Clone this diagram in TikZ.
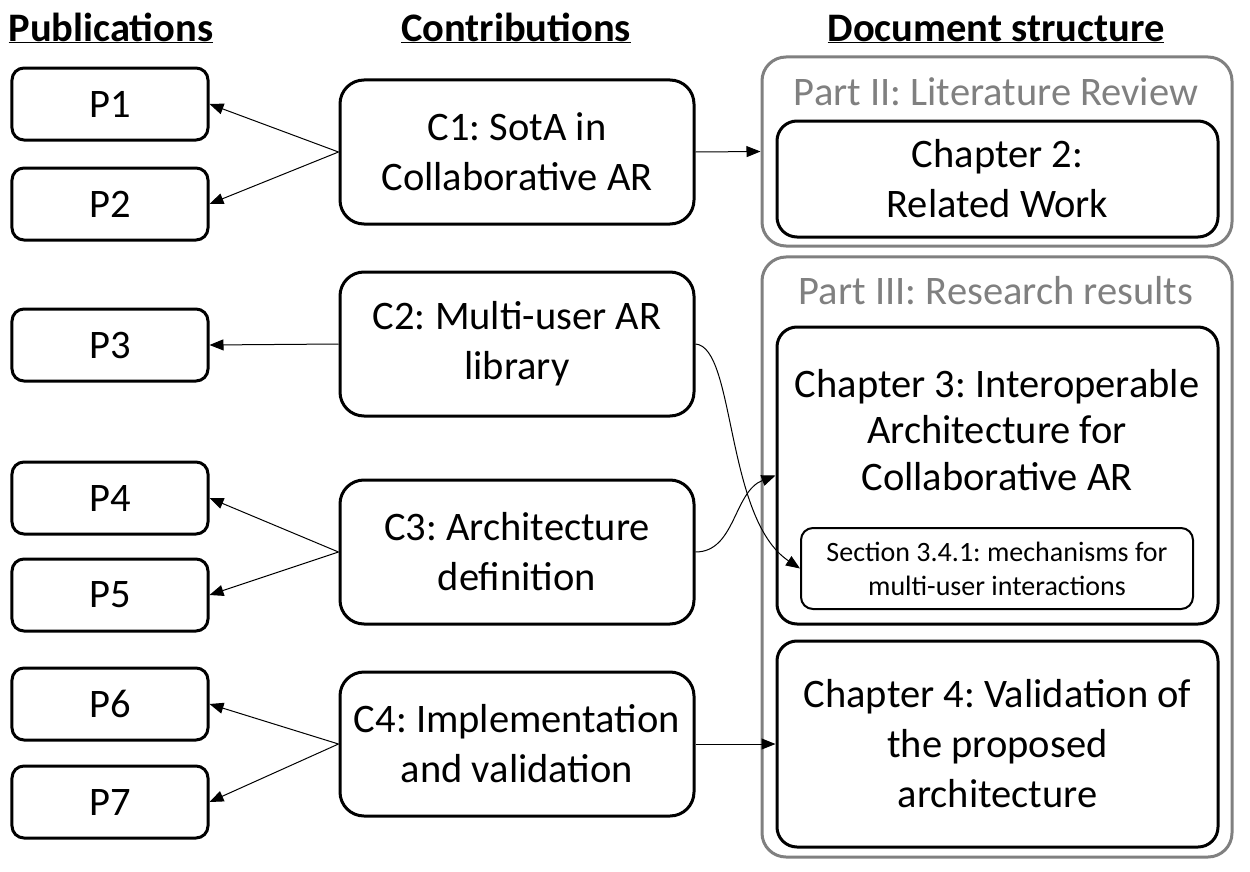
\documentclass[tikz,border=0pt]{standalone}
\usepackage{fontspec}
\setmainfont{Carlito}
\usepackage{xcolor}
\usetikzlibrary{arrows.meta}
\definecolor{partgray}{HTML}{808080}
\frenchspacing

\tikzset{
	big/.style={font=\fontsize{40.5bp}{50bp}\selectfont},
	small/.style={font=\fontsize{28bp}{34bp}\selectfont},
	head/.style={font=\fontsize{40.5bp}{50bp}\selectfont\bfseries, anchor=base},
	pubbox/.style={big, draw, line width=3bp, rounded corners=12bp, minimum width=196bp, minimum height=72bp, inner sep=0pt},
	contbox/.style={big, draw, line width=3bp, rounded corners=24bp, minimum width=354bp, minimum height=144bp, align=center, inner sep=0pt},
	partbox/.style={draw=partgray, line width=3bp, rounded corners=24bp, inner sep=0pt},
	parttitle/.style={big, text=partgray},
	chapbox/.style={big, draw, line width=3bp, rounded corners=20bp, align=center, inner sep=0pt},
	link/.style={-{Triangle[length=14bp,width=11bp]}, line width=1bp},
}

\begin{document}
\begin{tikzpicture}[x=1bp, y=-1bp]
		\useasboundingbox (0,0) rectangle (1250,872);
		% headers
		\node[head] (hpub) at (111,41) {\underline{Publications}};
		\node[head] (hcont) at (516,41) {\underline{Contributions}};
		\node[head] (hdoc) at (996,41) {\underline{Document structure}};
		% publications
		\node[pubbox] (p1) at (110,104) {P1};
		\node[pubbox] (p2) at (110,204) {P2};
		\node[pubbox] (p3) at (110,345) {P3};
		\node[pubbox] (p4) at (110,498) {P4};
		\node[pubbox] (p5) at (110,595) {P5};
		\node[pubbox] (p6) at (110,704) {P6};
		\node[pubbox] (p7) at (110,802) {P7};
		% contributions
		\node[contbox] (c1) at (517,152) {C1: SotA in\\Collaborative AR};
		\node[contbox] (c2) at (517,344) {C2: Multi-user AR\\library};
		\node[contbox] (c3) at (517,552) {C3: Architecture\\definition};
		\node[contbox] (c4) at (517,744) {C4: Implementation\\and validation};
		% document structure
		\node[partbox, minimum width=470bp, minimum height=189bp] (part2) at (997,151.5) {};
		\node[parttitle] (part2title) at (996,92) {Part II: Literature Review};
		\node[chapbox, minimum width=441bp, minimum height=116bp] (ch2) at (997.5,179) {Chapter 2:\\Related Work};
		\node[partbox, minimum width=470bp, minimum height=600bp] (part3) at (997,557) {};
		\node[parttitle] (part3title) at (996,291) {Part III: Research results};
		\node[chapbox, minimum width=441bp, minimum height=297bp] (ch3) at (997.5,475.5) {};
		\node[big, align=center, font=\fontsize{40.5bp}{46.5bp}\selectfont] (ch3text) at (997,430) {Chapter 3: Interoperable\\Architecture for\\Collaborative AR};
		\node[small, draw, line width=2bp, rounded corners=12bp, minimum width=392bp, minimum height=81bp, align=center, inner sep=0pt] (sec) at (997,568.5) {Section 3.4.1: mechanisms for\\multi-user interactions};
		\node[chapbox, minimum width=441bp, minimum height=206bp] (ch4) at (997.5,744) {Chapter 4: Validation of\\the proposed\\architecture};
		% links
		\draw[link] (c1.west) -- (p1.east);
		\draw[link] (c1.west) -- (p2.east);
		\draw[link] (c2.west) -- (p3.east);
		\draw[link] (c3.west) -- (p4.east);
		\draw[link] (c3.west) -- (p5.east);
		\draw[link] (c4.west) -- (p6.east);
		\draw[link] (c4.west) -- (p7.east);
		\draw[link] (c1.east) -- (part2.west);
		\draw[link] (c2.east) .. controls +(40,3) and +(-75,-50) .. (sec.west);
		\draw[link] (c3.east) .. controls +(40,0) and +(-42,16) .. (ch3.west);
		\draw[link] (c4.east) -- (ch4.west);
		\end{tikzpicture}
\end{document}
